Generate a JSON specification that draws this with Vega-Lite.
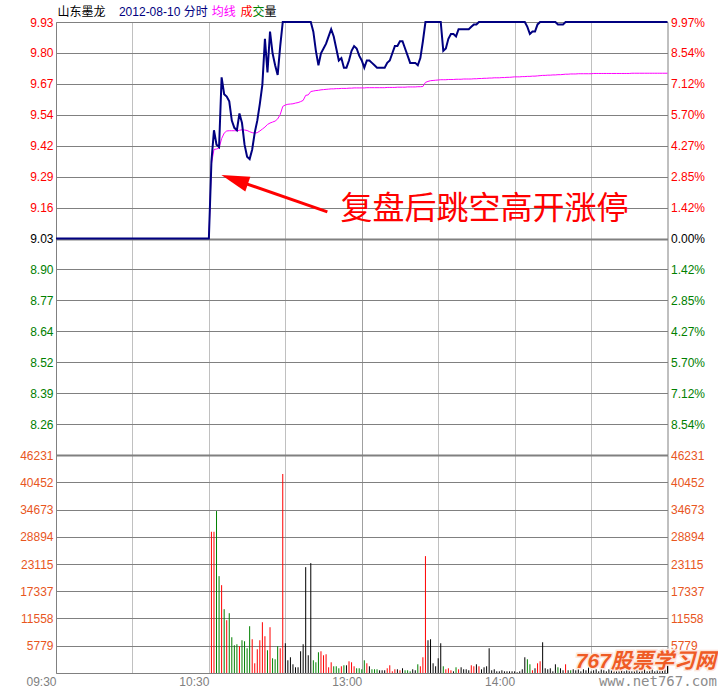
{
  "$schema": "https://vega.github.io/schema/vega-lite/v6.json",
  "background": "white",
  "padding": {"left": 19, "top": 5, "right": 0, "bottom": 0},
  "spacing": 0,
  "bounds": "flush",
  "config": {
    "view": {"stroke": "#808080", "strokeWidth": 1},
    "font": "Liberation Sans",
    "axis": {
      "labelFont": "Liberation Sans",
      "labelFontSize": 12,
      "ticks": false,
      "domain": false,
      "labelOverlap": false,
      "labelFlush": false,
      "gridColor": "#808080",
      "gridOpacity": 1
    }
  },
  "datasets": {
    "minutes": [
      {"m":0,"p":9.03,"a":9.03,"v":0,"d":"flat"},{"m":1,"p":9.03,"a":9.03,"v":0,"d":"flat"},{"m":2,"p":9.03,"a":9.03,"v":0,"d":"flat"},{"m":3,"p":9.03,"a":9.03,"v":0,"d":"flat"},{"m":4,"p":9.03,"a":9.03,"v":0,"d":"flat"},{"m":5,"p":9.03,"a":9.03,"v":0,"d":"flat"},{"m":6,"p":9.03,"a":9.03,"v":0,"d":"flat"},{"m":7,"p":9.03,"a":9.03,"v":0,"d":"flat"},{"m":8,"p":9.03,"a":9.03,"v":0,"d":"flat"},{"m":9,"p":9.03,"a":9.03,"v":0,"d":"flat"},
      {"m":10,"p":9.03,"a":9.03,"v":0,"d":"flat"},{"m":11,"p":9.03,"a":9.03,"v":0,"d":"flat"},{"m":12,"p":9.03,"a":9.03,"v":0,"d":"flat"},{"m":13,"p":9.03,"a":9.03,"v":0,"d":"flat"},{"m":14,"p":9.03,"a":9.03,"v":0,"d":"flat"},{"m":15,"p":9.03,"a":9.03,"v":0,"d":"flat"},{"m":16,"p":9.03,"a":9.03,"v":0,"d":"flat"},{"m":17,"p":9.03,"a":9.03,"v":0,"d":"flat"},{"m":18,"p":9.03,"a":9.03,"v":0,"d":"flat"},{"m":19,"p":9.03,"a":9.03,"v":0,"d":"flat"},
      {"m":20,"p":9.03,"a":9.03,"v":0,"d":"flat"},{"m":21,"p":9.03,"a":9.03,"v":0,"d":"flat"},{"m":22,"p":9.03,"a":9.03,"v":0,"d":"flat"},{"m":23,"p":9.03,"a":9.03,"v":0,"d":"flat"},{"m":24,"p":9.03,"a":9.03,"v":0,"d":"flat"},{"m":25,"p":9.03,"a":9.03,"v":0,"d":"flat"},{"m":26,"p":9.03,"a":9.03,"v":0,"d":"flat"},{"m":27,"p":9.03,"a":9.03,"v":0,"d":"flat"},{"m":28,"p":9.03,"a":9.03,"v":0,"d":"flat"},{"m":29,"p":9.03,"a":9.03,"v":0,"d":"flat"},
      {"m":30,"p":9.03,"a":9.03,"v":0,"d":"flat"},{"m":31,"p":9.03,"a":9.03,"v":0,"d":"flat"},{"m":32,"p":9.03,"a":9.03,"v":0,"d":"flat"},{"m":33,"p":9.03,"a":9.03,"v":0,"d":"flat"},{"m":34,"p":9.03,"a":9.03,"v":0,"d":"flat"},{"m":35,"p":9.03,"a":9.03,"v":0,"d":"flat"},{"m":36,"p":9.03,"a":9.03,"v":0,"d":"flat"},{"m":37,"p":9.03,"a":9.03,"v":0,"d":"flat"},{"m":38,"p":9.03,"a":9.03,"v":0,"d":"flat"},{"m":39,"p":9.03,"a":9.03,"v":0,"d":"flat"},
      {"m":40,"p":9.03,"a":9.03,"v":0,"d":"flat"},{"m":41,"p":9.03,"a":9.03,"v":0,"d":"flat"},{"m":42,"p":9.03,"a":9.03,"v":0,"d":"flat"},{"m":43,"p":9.03,"a":9.03,"v":0,"d":"flat"},{"m":44,"p":9.03,"a":9.03,"v":0,"d":"flat"},{"m":45,"p":9.03,"a":9.03,"v":0,"d":"flat"},{"m":46,"p":9.03,"a":9.03,"v":0,"d":"flat"},{"m":47,"p":9.03,"a":9.03,"v":0,"d":"flat"},{"m":48,"p":9.03,"a":9.03,"v":0,"d":"flat"},{"m":49,"p":9.03,"a":9.03,"v":0,"d":"flat"},
      {"m":50,"p":9.03,"a":9.03,"v":0,"d":"flat"},{"m":51,"p":9.03,"a":9.03,"v":0,"d":"flat"},{"m":52,"p":9.03,"a":9.03,"v":0,"d":"flat"},{"m":53,"p":9.03,"a":9.03,"v":0,"d":"flat"},{"m":54,"p":9.03,"a":9.03,"v":0,"d":"flat"},{"m":55,"p":9.03,"a":9.03,"v":0,"d":"flat"},{"m":56,"p":9.03,"a":9.03,"v":0,"d":"flat"},{"m":57,"p":9.03,"a":9.03,"v":0,"d":"flat"},{"m":58,"p":9.03,"a":9.03,"v":0,"d":"flat"},{"m":59,"p":9.03,"a":9.03,"v":0,"d":"flat"},
      {"m":60,"p":9.03,"a":9.03,"v":0,"d":"flat"},
      {"m":61,"p":9.35,"a":9.340,"v":29950,"d":"up"},
      {"m":62,"p":9.48,"a":9.400,"v":29950,"d":"up"},
      {"m":63,"p":9.42,"a":9.402,"v":34345,"d":"down"},
      {"m":64,"p":9.41,"a":9.406,"v":20540,"d":"down"},
      {"m":65,"p":9.70,"a":9.445,"v":18628,"d":"up"},
      {"m":66,"p":9.63,"a":9.468,"v":13530,"d":"down"},
      {"m":67,"p":9.62,"a":9.477,"v":11194,"d":"up"},
      {"m":68,"p":9.60,"a":9.478,"v":12680,"d":"down"},
      {"m":69,"p":9.52,"a":9.478,"v":7583,"d":"down"},
      {"m":70,"p":9.49,"a":9.478,"v":5883,"d":"down"},
      {"m":71,"p":9.48,"a":9.478,"v":6096,"d":"down"},
      {"m":72,"p":9.55,"a":9.480,"v":5671,"d":"up"},
      {"m":73,"p":9.51,"a":9.482,"v":6946,"d":"down"},
      {"m":74,"p":9.42,"a":9.481,"v":6733,"d":"down"},
      {"m":75,"p":9.37,"a":9.479,"v":5246,"d":"down"},
      {"m":76,"p":9.36,"a":9.474,"v":9919,"d":"down"},
      {"m":77,"p":9.40,"a":9.470,"v":7158,"d":"up"},
      {"m":78,"p":9.47,"a":9.468,"v":2060,"d":"up"},
      {"m":79,"p":9.52,"a":9.470,"v":5034,"d":"up"},
      {"m":80,"p":9.59,"a":9.477,"v":6946,"d":"up"},
      {"m":81,"p":9.67,"a":9.485,"v":10769,"d":"up"},
      {"m":82,"p":9.86,"a":9.493,"v":7795,"d":"up"},
      {"m":83,"p":9.72,"a":9.504,"v":4821,"d":"down"},
      {"m":84,"p":9.89,"a":9.510,"v":9706,"d":"up"},
      {"m":85,"p":9.80,"a":9.514,"v":3122,"d":"down"},
      {"m":86,"p":9.75,"a":9.518,"v":2910,"d":"down"},
      {"m":87,"p":9.71,"a":9.527,"v":5671,"d":"down"},
      {"m":88,"p":9.83,"a":9.545,"v":5246,"d":"up"},
      {"m":89,"p":9.93,"a":9.579,"v":42204,"d":"up"},
      {"m":90,"p":9.93,"a":9.585,"v":6308,"d":"flat"},
      {"m":91,"p":9.93,"a":9.588,"v":2698,"d":"flat"},
      {"m":92,"p":9.93,"a":9.589,"v":3335,"d":"flat"},
      {"m":93,"p":9.93,"a":9.590,"v":1848,"d":"flat"},
      {"m":94,"p":9.93,"a":9.593,"v":1211,"d":"flat"},
      {"m":95,"p":9.93,"a":9.595,"v":1211,"d":"flat"},
      {"m":96,"p":9.93,"a":9.599,"v":4609,"d":"flat"},
      {"m":97,"p":9.93,"a":9.604,"v":6096,"d":"flat"},
      {"m":98,"p":9.93,"a":9.625,"v":22451,"d":"flat"},
      {"m":99,"p":9.93,"a":9.627,"v":3759,"d":"flat"},
      {"m":100,"p":9.93,"a":9.641,"v":23300,"d":"flat"},
      {"m":101,"p":9.89,"a":9.643,"v":2698,"d":"down"},
      {"m":102,"p":9.81,"a":9.645,"v":2273,"d":"down"},
      {"m":103,"p":9.75,"a":9.646,"v":4396,"d":"down"},
      {"m":104,"p":9.80,"a":9.648,"v":4609,"d":"up"},
      {"m":105,"p":9.82,"a":9.649,"v":3759,"d":"up"},
      {"m":106,"p":9.84,"a":9.650,"v":3971,"d":"up"},
      {"m":107,"p":9.87,"a":9.651,"v":1211,"d":"up"},
      {"m":108,"p":9.90,"a":9.652,"v":2273,"d":"up"},
      {"m":109,"p":9.87,"a":9.652,"v":1423,"d":"down"},
      {"m":110,"p":9.82,"a":9.653,"v":1423,"d":"down"},
      {"m":111,"p":9.77,"a":9.653,"v":998,"d":"down"},
      {"m":112,"p":9.78,"a":9.654,"v":1423,"d":"up"},
      {"m":113,"p":9.74,"a":9.654,"v":1635,"d":"down"},
      {"m":114,"p":9.74,"a":9.654,"v":1635,"d":"flat"},
      {"m":115,"p":9.77,"a":9.655,"v":2485,"d":"up"},
      {"m":116,"p":9.81,"a":9.655,"v":2273,"d":"up"},
      {"m":117,"p":9.83,"a":9.656,"v":1423,"d":"up"},
      {"m":118,"p":9.82,"a":9.656,"v":998,"d":"down"},
      {"m":119,"p":9.79,"a":9.656,"v":998,"d":"down"},
      {"m":120,"p":9.77,"a":9.656,"v":786,"d":"down"},
      {"m":121,"p":9.74,"a":9.656,"v":2698,"d":"down"},
      {"m":122,"p":9.77,"a":9.657,"v":2060,"d":"up"},
      {"m":123,"p":9.77,"a":9.657,"v":1423,"d":"flat"},
      {"m":124,"p":9.76,"a":9.657,"v":786,"d":"down"},
      {"m":125,"p":9.75,"a":9.657,"v":786,"d":"down"},
      {"m":126,"p":9.74,"a":9.657,"v":786,"d":"down"},
      {"m":127,"p":9.74,"a":9.657,"v":574,"d":"flat"},
      {"m":128,"p":9.74,"a":9.657,"v":574,"d":"flat"},
      {"m":129,"p":9.74,"a":9.657,"v":574,"d":"flat"},
      {"m":130,"p":9.76,"a":9.658,"v":998,"d":"up"},
      {"m":131,"p":9.77,"a":9.658,"v":1635,"d":"up"},
      {"m":132,"p":9.80,"a":9.658,"v":361,"d":"up"},
      {"m":133,"p":9.83,"a":9.658,"v":786,"d":"up"},
      {"m":134,"p":9.83,"a":9.659,"v":786,"d":"flat"},
      {"m":135,"p":9.85,"a":9.659,"v":574,"d":"up"},
      {"m":136,"p":9.85,"a":9.659,"v":998,"d":"flat"},
      {"m":137,"p":9.82,"a":9.659,"v":574,"d":"down"},
      {"m":138,"p":9.79,"a":9.660,"v":574,"d":"down"},
      {"m":139,"p":9.76,"a":9.660,"v":361,"d":"down"},
      {"m":140,"p":9.76,"a":9.660,"v":786,"d":"flat"},
      {"m":141,"p":9.76,"a":9.660,"v":574,"d":"flat"},
      {"m":142,"p":9.75,"a":9.661,"v":1848,"d":"down"},
      {"m":143,"p":9.78,"a":9.661,"v":1423,"d":"up"},
      {"m":144,"p":9.85,"a":9.662,"v":3335,"d":"up"},
      {"m":145,"p":9.93,"a":9.679,"v":24787,"d":"up"},
      {"m":146,"p":9.93,"a":9.683,"v":6946,"d":"flat"},
      {"m":147,"p":9.93,"a":9.686,"v":7158,"d":"flat"},
      {"m":148,"p":9.93,"a":9.687,"v":2060,"d":"flat"},
      {"m":149,"p":9.93,"a":9.688,"v":1423,"d":"flat"},
      {"m":150,"p":9.93,"a":9.689,"v":3122,"d":"flat"},
      {"m":151,"p":9.93,"a":9.690,"v":6308,"d":"flat"},
      {"m":152,"p":9.81,"a":9.690,"v":1423,"d":"down"},
      {"m":153,"p":9.82,"a":9.690,"v":786,"d":"up"},
      {"m":154,"p":9.86,"a":9.691,"v":998,"d":"up"},
      {"m":155,"p":9.88,"a":9.691,"v":574,"d":"up"},
      {"m":156,"p":9.88,"a":9.691,"v":361,"d":"flat"},
      {"m":157,"p":9.87,"a":9.692,"v":1211,"d":"down"},
      {"m":158,"p":9.90,"a":9.692,"v":786,"d":"up"},
      {"m":159,"p":9.90,"a":9.692,"v":1211,"d":"flat"},
      {"m":160,"p":9.90,"a":9.693,"v":786,"d":"flat"},
      {"m":161,"p":9.90,"a":9.693,"v":786,"d":"flat"},
      {"m":162,"p":9.90,"a":9.693,"v":574,"d":"flat"},
      {"m":163,"p":9.91,"a":9.693,"v":1635,"d":"up"},
      {"m":164,"p":9.92,"a":9.694,"v":1423,"d":"up"},
      {"m":165,"p":9.92,"a":9.694,"v":1848,"d":"flat"},
      {"m":166,"p":9.93,"a":9.695,"v":1423,"d":"up"},
      {"m":167,"p":9.93,"a":9.695,"v":786,"d":"flat"},
      {"m":168,"p":9.93,"a":9.696,"v":1211,"d":"flat"},
      {"m":169,"p":9.93,"a":9.696,"v":1423,"d":"flat"},
      {"m":170,"p":9.93,"a":9.697,"v":5246,"d":"flat"},
      {"m":171,"p":9.93,"a":9.697,"v":574,"d":"flat"},
      {"m":172,"p":9.93,"a":9.698,"v":786,"d":"flat"},
      {"m":173,"p":9.93,"a":9.698,"v":361,"d":"flat"},
      {"m":174,"p":9.93,"a":9.698,"v":361,"d":"flat"},
      {"m":175,"p":9.93,"a":9.699,"v":574,"d":"flat"},
      {"m":176,"p":9.93,"a":9.699,"v":361,"d":"flat"},
      {"m":177,"p":9.93,"a":9.700,"v":361,"d":"flat"},
      {"m":178,"p":9.93,"a":9.700,"v":361,"d":"flat"},
      {"m":179,"p":9.93,"a":9.701,"v":361,"d":"flat"},
      {"m":180,"p":9.93,"a":9.702,"v":361,"d":"flat"},
      {"m":181,"p":9.93,"a":9.702,"v":150,"d":"flat"},
      {"m":182,"p":9.93,"a":9.702,"v":361,"d":"flat"},
      {"m":183,"p":9.93,"a":9.703,"v":786,"d":"flat"},
      {"m":184,"p":9.93,"a":9.703,"v":3335,"d":"flat"},
      {"m":185,"p":9.91,"a":9.704,"v":2910,"d":"down"},
      {"m":186,"p":9.88,"a":9.704,"v":1848,"d":"down"},
      {"m":187,"p":9.89,"a":9.705,"v":574,"d":"up"},
      {"m":188,"p":9.89,"a":9.705,"v":998,"d":"flat"},
      {"m":189,"p":9.92,"a":9.706,"v":2060,"d":"up"},
      {"m":190,"p":9.93,"a":9.707,"v":2485,"d":"up"},
      {"m":191,"p":9.93,"a":9.708,"v":6520,"d":"flat"},
      {"m":192,"p":9.93,"a":9.708,"v":998,"d":"flat"},
      {"m":193,"p":9.93,"a":9.709,"v":786,"d":"flat"},
      {"m":194,"p":9.93,"a":9.709,"v":998,"d":"flat"},
      {"m":195,"p":9.93,"a":9.710,"v":361,"d":"flat"},
      {"m":196,"p":9.93,"a":9.710,"v":1848,"d":"flat"},
      {"m":197,"p":9.92,"a":9.711,"v":1211,"d":"down"},
      {"m":198,"p":9.92,"a":9.711,"v":998,"d":"flat"},
      {"m":199,"p":9.92,"a":9.712,"v":574,"d":"flat"},
      {"m":200,"p":9.93,"a":9.713,"v":1848,"d":"up"},
      {"m":201,"p":9.93,"a":9.713,"v":574,"d":"flat"},
      {"m":202,"p":9.93,"a":9.714,"v":574,"d":"down"},
      {"m":203,"p":9.93,"a":9.714,"v":786,"d":"flat"},
      {"m":204,"p":9.93,"a":9.714,"v":574,"d":"flat"},
      {"m":205,"p":9.93,"a":9.715,"v":998,"d":"flat"},
      {"m":206,"p":9.93,"a":9.715,"v":361,"d":"flat"},
      {"m":207,"p":9.93,"a":9.715,"v":786,"d":"flat"},
      {"m":208,"p":9.93,"a":9.715,"v":574,"d":"flat"},
      {"m":209,"p":9.93,"a":9.715,"v":1211,"d":"flat"},
      {"m":210,"p":9.93,"a":9.715,"v":361,"d":"flat"},
      {"m":211,"p":9.93,"a":9.716,"v":574,"d":"flat"},
      {"m":212,"p":9.93,"a":9.716,"v":786,"d":"flat"},
      {"m":213,"p":9.93,"a":9.716,"v":361,"d":"flat"},
      {"m":214,"p":9.93,"a":9.716,"v":998,"d":"flat"},
      {"m":215,"p":9.93,"a":9.716,"v":574,"d":"flat"},
      {"m":216,"p":9.93,"a":9.716,"v":361,"d":"flat"},
      {"m":217,"p":9.93,"a":9.716,"v":786,"d":"flat"},
      {"m":218,"p":9.93,"a":9.716,"v":574,"d":"flat"},
      {"m":219,"p":9.93,"a":9.716,"v":1423,"d":"flat"},
      {"m":220,"p":9.93,"a":9.716,"v":361,"d":"flat"},
      {"m":221,"p":9.93,"a":9.716,"v":574,"d":"flat"},
      {"m":222,"p":9.93,"a":9.716,"v":786,"d":"flat"},
      {"m":223,"p":9.93,"a":9.716,"v":361,"d":"flat"},
      {"m":224,"p":9.93,"a":9.716,"v":574,"d":"flat"},
      {"m":225,"p":9.93,"a":9.716,"v":998,"d":"flat"},
      {"m":226,"p":9.93,"a":9.717,"v":361,"d":"flat"},
      {"m":227,"p":9.93,"a":9.717,"v":574,"d":"flat"},
      {"m":228,"p":9.93,"a":9.717,"v":786,"d":"flat"},
      {"m":229,"p":9.93,"a":9.717,"v":361,"d":"flat"},
      {"m":230,"p":9.93,"a":9.717,"v":574,"d":"flat"},
      {"m":231,"p":9.93,"a":9.717,"v":1211,"d":"flat"},
      {"m":232,"p":9.93,"a":9.717,"v":361,"d":"flat"},
      {"m":233,"p":9.93,"a":9.717,"v":574,"d":"flat"},
      {"m":234,"p":9.93,"a":9.717,"v":786,"d":"flat"},
      {"m":235,"p":9.93,"a":9.717,"v":361,"d":"flat"},
      {"m":236,"p":9.93,"a":9.717,"v":574,"d":"flat"},
      {"m":237,"p":9.93,"a":9.717,"v":998,"d":"flat"},
      {"m":238,"p":9.93,"a":9.717,"v":574,"d":"flat"},
      {"m":239,"p":9.93,"a":9.717,"v":786,"d":"flat"},
      {"m":240,"p":9.93,"a":9.717,"v":1635,"d":"flat"}
    ]
  },
  "vconcat": [
    {
      "width": 611.5,
      "height": 433,
      "data": {"name": "minutes"},
      "resolve": {"axis": {"y": "independent"}},
      "layer": [
        {
          "mark": {"type": "line", "color": "#ff00ff", "strokeWidth": 1},
          "encoding": {
            "x": {"field": "m", "type": "quantitative", "scale": {"domain": [0, 240], "nice": false, "zero": false},
              "axis": {"orient": "bottom", "title": null, "values": [30, 60, 90, 120, 150, 180, 210], "labels": false, "grid": true,
                "gridDash": {"condition": {"test": "datum.value == 120", "value": [1, 0]}, "value": [1, 1]}}},
            "y": {"field": "a", "type": "quantitative", "scale": {"domain": [8.13, 9.93], "nice": false, "zero": false},
              "axis": {"orient": "right", "title": null, "grid": false, "labelPadding": 3,
                "values": [8.258571, 8.387143, 8.515714, 8.644286, 8.772857, 8.901429, 9.03, 9.158571, 9.287143, 9.415714, 9.544286, 9.672857, 9.801429, 9.93],
                "labelExpr": "format(abs(datum.value - 9.03) / 9.03 * 100, '.2f') + '%'",
                "labelColor": {"condition": [{"test": "datum.value > 9.035", "value": "#ff0000"}, {"test": "datum.value < 9.025", "value": "#008000"}], "value": "#000000"}}}
          }
        },
        {
          "mark": {"type": "line", "color": "#000080", "strokeWidth": 2},
          "encoding": {
            "x": {"field": "m", "type": "quantitative", "scale": {"domain": [0, 240], "nice": false, "zero": false}},
            "y": {"field": "p", "type": "quantitative", "scale": {"domain": [8.13, 9.93], "nice": false, "zero": false},
              "axis": {"orient": "left", "title": null, "grid": true, "labelPadding": 3, "format": ".2f",
                "values": [8.258571, 8.387143, 8.515714, 8.644286, 8.772857, 8.901429, 9.03, 9.158571, 9.287143, 9.415714, 9.544286, 9.672857, 9.801429, 9.93],
                "gridWidth": {"condition": {"test": "abs(datum.value - 9.03) < 0.001", "value": 2}, "value": 1},
                "labelColor": {"condition": [{"test": "datum.value > 9.035", "value": "#ff0000"}, {"test": "datum.value < 9.025", "value": "#008000"}], "value": "#000000"}}}
          }
        },
        {
          "data": {"values": [{}]},
          "mark": {"type": "rule", "color": "#ff0000", "strokeWidth": 3},
          "encoding": {
            "x": {"datum": 106.5, "type": "quantitative", "scale": {"domain": [0, 240], "nice": false, "zero": false}},
            "x2": {"datum": 70.5},
            "y": {"datum": 9.141, "type": "quantitative", "scale": {"domain": [8.13, 9.93], "nice": false, "zero": false}, "axis": null},
            "y2": {"datum": 9.273}
          }
        },
        {
          "data": {"values": [{}]},
          "mark": {"type": "point", "shape": "M0,0L2,-0.55L2,0.55Z", "size": 784, "angle": 19, "filled": true, "color": "#ff0000", "opacity": 1, "strokeWidth": 0},
          "encoding": {
            "x": {"datum": 64.9, "type": "quantitative", "scale": {"domain": [0, 240], "nice": false, "zero": false}},
            "y": {"datum": 9.294, "type": "quantitative", "scale": {"domain": [8.13, 9.93], "nice": false, "zero": false}, "axis": null}
          }
        },
        {
          "data": {"values": [{}]},
          "mark": {"type": "text", "text": "复盘后跳空高开涨停", "font": "Noto Sans CJK SC", "fontSize": 32, "color": "#ff0000", "align": "left", "baseline": "middle"},
          "encoding": {
            "x": {"datum": 111.7, "type": "quantitative", "scale": {"domain": [0, 240], "nice": false, "zero": false}},
            "y": {"datum": 9.152, "type": "quantitative", "scale": {"domain": [8.13, 9.93], "nice": false, "zero": false}, "axis": null}
          }
        },
        {
          "data": {"values": [{}]},
          "mark": {"type": "text", "text": "山东墨龙", "font": "Noto Sans CJK SC", "fontSize": 12, "color": "#000000", "align": "left", "baseline": "middle"},
          "encoding": {
            "x": {"datum": 0.6, "type": "quantitative", "scale": {"domain": [0, 240], "nice": false, "zero": false}},
            "y": {"datum": 9.97, "type": "quantitative", "scale": {"domain": [8.13, 9.93], "nice": false, "zero": false}, "axis": null}
          }
        },
        {
          "data": {"values": [{}]},
          "mark": {"type": "text", "text": "2012-08-10 分时", "font": "Liberation Sans, Noto Sans CJK SC", "fontSize": 12, "color": "#000080", "align": "left", "baseline": "middle"},
          "encoding": {
            "x": {"datum": 24.7, "type": "quantitative", "scale": {"domain": [0, 240], "nice": false, "zero": false}},
            "y": {"datum": 9.97, "type": "quantitative", "scale": {"domain": [8.13, 9.93], "nice": false, "zero": false}, "axis": null}
          }
        },
        {
          "data": {"values": [{}]},
          "mark": {"type": "text", "text": "均线", "font": "Noto Sans CJK SC", "fontSize": 12, "color": "#ff00ff", "align": "left", "baseline": "middle"},
          "encoding": {
            "x": {"datum": 61.1, "type": "quantitative", "scale": {"domain": [0, 240], "nice": false, "zero": false}},
            "y": {"datum": 9.97, "type": "quantitative", "scale": {"domain": [8.13, 9.93], "nice": false, "zero": false}, "axis": null}
          }
        },
        {
          "data": {"values": [{}]},
          "mark": {"type": "text", "text": "成", "font": "Noto Sans CJK SC", "fontSize": 12, "color": "#ff0000", "align": "left", "baseline": "middle"},
          "encoding": {
            "x": {"datum": 72.4, "type": "quantitative", "scale": {"domain": [0, 240], "nice": false, "zero": false}},
            "y": {"datum": 9.97, "type": "quantitative", "scale": {"domain": [8.13, 9.93], "nice": false, "zero": false}, "axis": null}
          }
        },
        {
          "data": {"values": [{}]},
          "mark": {"type": "text", "text": "交", "font": "Noto Sans CJK SC", "fontSize": 12, "color": "#008000", "align": "left", "baseline": "middle"},
          "encoding": {
            "x": {"datum": 77.1, "type": "quantitative", "scale": {"domain": [0, 240], "nice": false, "zero": false}},
            "y": {"datum": 9.97, "type": "quantitative", "scale": {"domain": [8.13, 9.93], "nice": false, "zero": false}, "axis": null}
          }
        },
        {
          "data": {"values": [{}]},
          "mark": {"type": "text", "text": "量", "font": "Noto Sans CJK SC", "fontSize": 12, "color": "#000000", "align": "left", "baseline": "middle"},
          "encoding": {
            "x": {"datum": 81.8, "type": "quantitative", "scale": {"domain": [0, 240], "nice": false, "zero": false}},
            "y": {"datum": 9.97, "type": "quantitative", "scale": {"domain": [8.13, 9.93], "nice": false, "zero": false}, "axis": null}
          }
        }
      ]
    },
    {
      "width": 611.5,
      "height": 218,
      "data": {"name": "minutes"},
      "resolve": {"axis": {"y": "independent"}},
      "layer": [
        {
          "transform": [{"filter": "datum.v > 0"}],
          "mark": {"type": "rule", "strokeWidth": 1},
          "encoding": {
            "x": {"field": "m", "type": "quantitative", "scale": {"domain": [0, 240], "nice": false, "zero": false},
              "axis": {"orient": "bottom", "title": null, "values": [0, 30, 60, 90, 120, 150, 180, 210], "grid": true,
                "labelExpr": "datum.value == 0 ? '09:30' : datum.value == 60 ? '10:30' : datum.value == 120 ? '13:00' : datum.value == 180 ? '14:00' : ''",
                "labelAlign": "right", "labelBaseline": "top", "labelPadding": 3, "labelColor": "#808080",
                "gridDash": {"condition": {"test": "datum.value == 120 || datum.value == 0", "value": [1, 0]}, "value": [1, 1]}}},
            "y": {"field": "v", "type": "quantitative", "scale": {"domain": [0, 46231], "nice": false, "zero": false},
              "axis": {"orient": "left", "title": null, "grid": true, "labelPadding": 3, "format": "d", "labelColor": "#e8561e",
                "values": [5779, 11558, 17337, 23115, 28894, 34673, 40452, 46231],
                "gridWidth": {"condition": {"test": "datum.value == 46231", "value": 2}, "value": 1}}},
            "y2": {"datum": 0},
            "color": {"field": "d", "type": "nominal", "scale": {"domain": ["up", "down", "flat"], "range": ["#ff0000", "#008000", "#000000"]}, "legend": null}
          }
        },
        {
          "data": {"values": [{}]},
          "mark": {"type": "text", "text": "767股票学习网", "font": "Liberation Sans, Noto Sans CJK SC", "fontSize": 21, "fontWeight": "bold", "fontStyle": "italic", "align": "right", "baseline": "middle", "fill": "#fbd3c4", "stroke": "#fde6dc", "strokeWidth": 3},
          "encoding": {
            "x": {"datum": 259, "type": "quantitative", "scale": {"domain": [0, 240], "nice": false, "zero": false}},
            "y": {"datum": 2273, "type": "quantitative", "scale": {"domain": [0, 46231], "nice": false, "zero": false},
              "axis": {"orient": "right", "title": null, "grid": false, "labelPadding": 3, "format": "d", "labelColor": "#e8561e",
                "values": [5779, 11558, 17337, 23115, 28894, 34673, 40452, 46231]}}
          }
        },
        {
          "data": {"values": [{}]},
          "mark": {"type": "text", "text": "767股票学习网", "font": "Liberation Sans, Noto Sans CJK SC", "fontSize": 21, "fontWeight": "bold", "fontStyle": "italic", "align": "right", "baseline": "middle", "fill": "#ef5b25"},
          "encoding": {
            "x": {"datum": 259, "type": "quantitative", "scale": {"domain": [0, 240], "nice": false, "zero": false}},
            "y": {"datum": 2273, "type": "quantitative", "scale": {"domain": [0, 46231], "nice": false, "zero": false}, "axis": null}
          }
        },
        {
          "data": {"values": [{}]},
          "mark": {"type": "text", "text": "www.net767.com", "font": "DejaVu Sans Mono", "fontSize": 14, "align": "right", "baseline": "middle", "fill": "#8c8c8c"},
          "encoding": {
            "x": {"datum": 259.4, "type": "quantitative", "scale": {"domain": [0, 240], "nice": false, "zero": false}},
            "y": {"datum": -1900, "type": "quantitative", "scale": {"domain": [0, 46231], "nice": false, "zero": false}, "axis": null}
          }
        }
      ]
    }
  ]
}
